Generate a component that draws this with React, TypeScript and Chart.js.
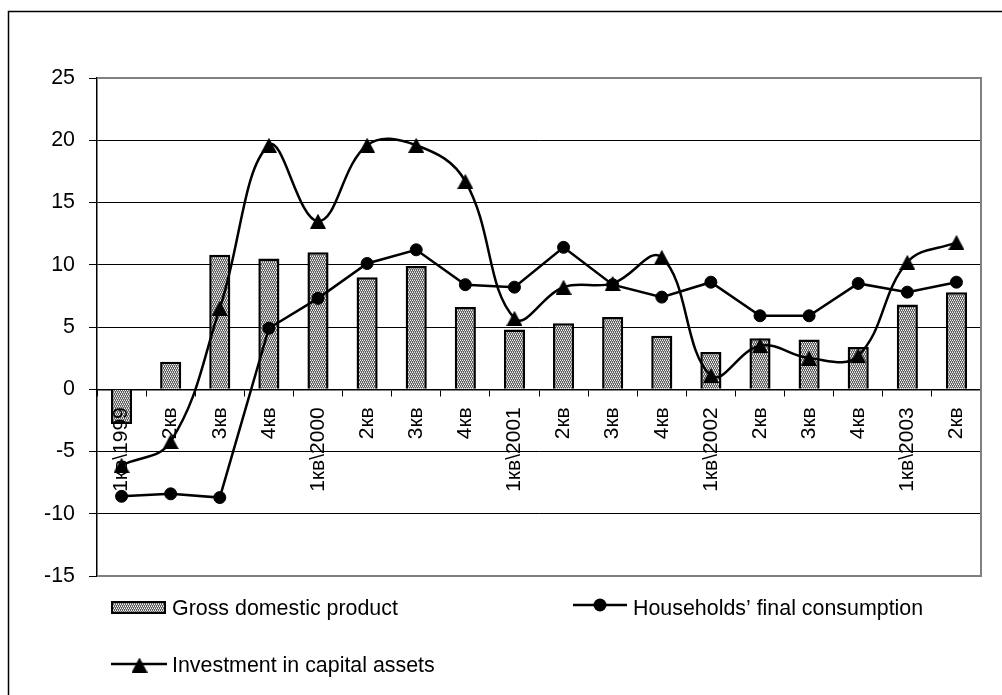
import { useEffect, useRef } from 'react';
import { Chart, registerables } from 'chart.js';

Chart.register(...registerables);

// Quarterly growth rates, %
const quarters = [
  '1кв\\1999', '2кв', '3кв', '4кв',
  '1кв\\2000', '2кв', '3кв', '4кв',
  '1кв\\2001', '2кв', '3кв', '4кв',
  '1кв\\2002', '2кв', '3кв', '4кв',
  '1кв\\2003', '2кв',
];

const gdp = [-2.8, 2.2, 10.8, 10.5, 11.0, 9.0, 9.9, 6.6, 4.8, 5.3, 5.8, 4.3, 3.0, 4.1, 4.0, 3.4, 6.8, 7.8];
const households = [-8.6, -8.4, -8.7, 4.9, 7.3, 10.1, 11.2, 8.4, 8.2, 11.4, 8.4, 7.4, 8.6, 5.9, 5.9, 8.5, 7.8, 8.6];
const investment = [-6.1, -4.2, 6.5, 19.6, 13.5, 19.6, 19.6, 16.7, 5.7, 8.2, 8.5, 10.6, 1.1, 3.5, 2.5, 2.7, 10.2, 11.8];

const seriesNames = ['Gross domestic product', 'Households’ final consumption', 'Investment in capital assets'];

const yMin = -15;
const yMax = 25;
const yStep = 5;

const FONT = '"Liberation Sans", Arial, Helvetica, sans-serif';

// Fine dotted fill used for the GDP bars
function makeDotPattern(ctx: CanvasRenderingContext2D): CanvasPattern | string {
  const tile = document.createElement('canvas');
  tile.width = 4;
  tile.height = 4;
  const t = tile.getContext('2d');
  if (!t) return '#9c9c9c';
  t.fillStyle = '#5c5c5c';
  t.fillRect(0, 0, 4, 4);
  t.fillStyle = '#f4f4f4';
  for (const [x, y] of [[0, 0], [2, 0], [1, 2], [3, 2]]) t.fillRect(x, y, 1, 1);
  t.fillStyle = '#b4b4b4';
  for (const [x, y] of [[1, 1], [3, 1], [0, 3], [2, 3]]) t.fillRect(x, y, 1, 1);
  return ctx.createPattern(tile, 'repeat') || '#9c9c9c';
}

// Triangle marker centred in its own box
function makeTriangle(): HTMLCanvasElement {
  const c = document.createElement('canvas');
  c.width = 16;
  c.height = 15;
  const t = c.getContext('2d');
  if (t) {
    t.fillStyle = '#000';
    t.beginPath();
    t.moveTo(8, 0);
    t.lineTo(16, 15);
    t.lineTo(0, 15);
    t.closePath();
    t.fill();
  }
  return c;
}

export default function App() {
  const ref = useRef<HTMLCanvasElement>(null);

  useEffect(() => {
    const canvas = ref.current;
    if (!canvas) return;
    const ctx0 = canvas.getContext('2d');
    if (!ctx0) return;
    const dots = makeDotPattern(ctx0);
    const tri = makeTriangle();

    // category labels are painted between the bars and the lines
    let showCategoryLabels = false;

    const framePlugin = {
      id: 'frameAndLegend',
      beforeDatasetsDraw(chart: any) {
        const { ctx, chartArea } = chart;
        const { left, top, right, bottom } = chartArea;
        ctx.save();
        ctx.strokeStyle = '#808080';
        ctx.lineWidth = 2;
        ctx.beginPath();
        ctx.moveTo(left, top);
        ctx.lineTo(right, top);
        ctx.lineTo(right, bottom);
        ctx.lineTo(left, bottom);
        ctx.stroke();
        ctx.restore();
      },
      afterDatasetDraw(chart: any, args: any) {
        if (args.index !== 0) return;
        const xs = chart.scales.x;
        showCategoryLabels = true;
        xs._labelItems = null;
        xs.drawLabels(chart.chartArea);
        showCategoryLabels = false;
        xs._labelItems = null;
      },
      afterDraw(chart: any) {
        const { ctx } = chart;
        ctx.save();
        // outer frame
        ctx.strokeStyle = '#000';
        ctx.lineWidth = 1.5;
        ctx.beginPath();
        ctx.moveTo(8.5, 700);
        ctx.lineTo(8.5, 11.5);
        ctx.lineTo(1010, 11.5);
        ctx.stroke();

        // legend
        ctx.font = `21.4px ${FONT}`;
        ctx.fillStyle = '#000';
        ctx.textAlign = 'left';
        ctx.textBaseline = 'alphabetic';

        // GDP swatch
        ctx.fillStyle = dots;
        ctx.fillRect(112, 602, 53, 11);
        ctx.strokeStyle = '#000';
        ctx.lineWidth = 2;
        ctx.strokeRect(112, 602, 53, 11);
        ctx.fillStyle = '#000';
        ctx.fillText(seriesNames[0], 172, 614.5);

        // Households swatch
        ctx.lineWidth = 2.5;
        ctx.beginPath();
        ctx.moveTo(573, 605);
        ctx.lineTo(627, 605);
        ctx.stroke();
        ctx.beginPath();
        ctx.arc(600, 605, 6.5, 0, Math.PI * 2);
        ctx.fill();
        ctx.fillText(seriesNames[1], 633, 614.5);

        // Investment swatch
        ctx.beginPath();
        ctx.moveTo(111, 664);
        ctx.lineTo(167, 664);
        ctx.stroke();
        ctx.drawImage(tri, 139.5 - 8, 665 - 7.5);
        ctx.fillText(seriesNames[2], 172, 671.5);
        ctx.restore();
      },
    };

    const chart = new Chart(canvas, {
      type: 'bar',
      data: {
        labels: quarters,
        datasets: [
          {
            type: 'bar',
            label: seriesNames[0],
            data: gdp,
            backgroundColor: dots as any,
            borderColor: '#000',
            borderWidth: 2.5,
            barPercentage: 0.43,
            categoryPercentage: 1,
            order: 3,
          },
          {
            type: 'line',
            label: seriesNames[1],
            data: households,
            borderColor: '#000',
            borderWidth: 2.5,
            pointRadius: 6,
            pointBackgroundColor: '#000',
            pointBorderColor: '#000',
            pointBorderWidth: 1,
            tension: 0,
            order: 2,
          },
          {
            type: 'line',
            label: seriesNames[2],
            data: investment,
            borderColor: '#000',
            borderWidth: 2.5,
            pointStyle: tri as any,
            pointRadius: 8,
            tension: 0.4,
            cubicInterpolationMode: 'default',
            order: 1,
          },
        ] as any,
      },
      plugins: [framePlugin],
      options: {
        responsive: false,
        animation: false,
        devicePixelRatio: 1,
        layout: { padding: { left: 0, top: 78, right: 21, bottom: 119 } },
        plugins: {
          legend: { display: false },
          tooltip: { enabled: false },
        },
        scales: {
          x: {
            position: { y: 0 } as any,
            offset: true,
            grid: {
              offset: true,
              drawOnChartArea: false,
              drawTicks: true,
              tickLength: 6,
              color: '#000',
              lineWidth: 1,
            },
            border: { display: true, color: '#000', width: 1.5 },
            ticks: {
              autoSkip: false,
              minRotation: 90,
              maxRotation: 90,
              padding: 12,
              color: () => (showCategoryLabels ? '#000' : 'rgba(0,0,0,0)'),
              font: { family: FONT, size: 21 },
            },
            afterFit: (s: any) => {
              s.height = 0;
            },
          },
          y: {
            min: yMin,
            max: yMax,
            ticks: {
              stepSize: yStep,
              padding: 14,
              color: '#000',
              font: { family: FONT, size: 21.4 },
            },
            grid: { color: '#000', lineWidth: 1, tickLength: 8 },
            border: { color: '#000', width: 1.5 },
            afterFit: (s: any) => {
              s.width = 97;
            },
          },
        },
      } as any,
    });

    return () => chart.destroy();
  }, []);

  return (
    <div style={{ position: 'fixed', left: 0, top: 0, width: 1002, height: 695, background: '#fff' }}>
      <canvas ref={ref} width={1002} height={695} style={{ display: 'block' }} />
    </div>
  );
}
